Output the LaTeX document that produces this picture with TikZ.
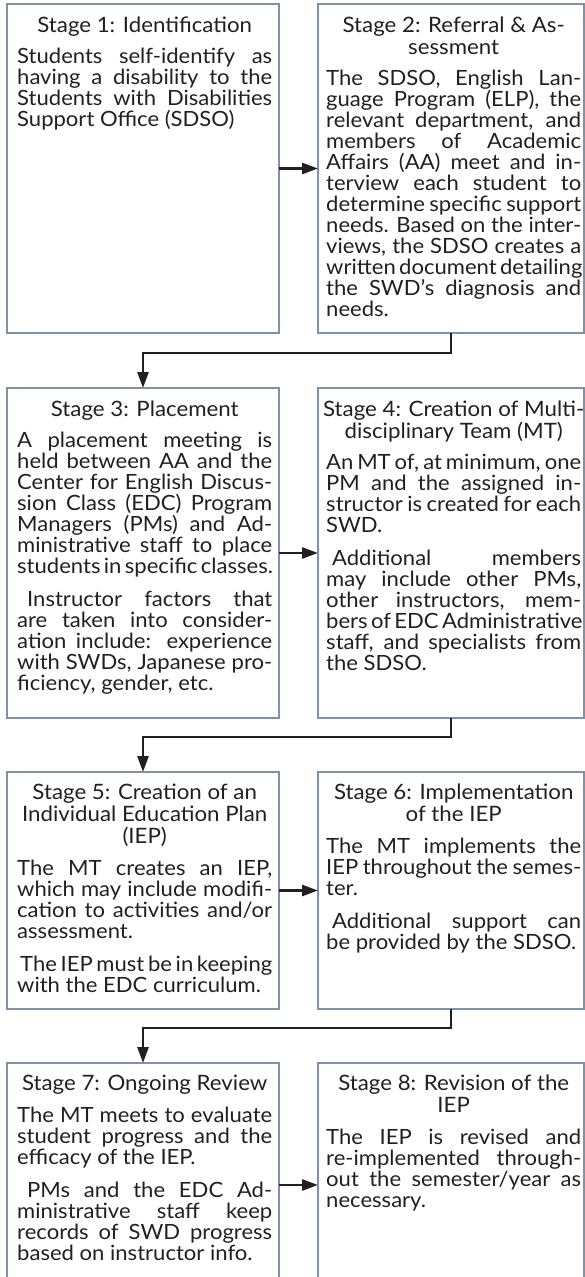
\documentclass[tikz,border=0pt]{standalone}
\usepackage{fontspec}
\setmainfont{Lato}[FakeStretch=1.05]
\usetikzlibrary{arrows.meta}
\definecolor{txt}{HTML}{231F20}
\definecolor{brd}{HTML}{7F93A8}
\newdimen\bodyw \bodyw=255pt
\newcommand\titlefont{\fontsize{21.2pt}{22pt}\selectfont\spaceskip=0pt\relax}
\newcommand\Jline[1]{\hbox to \bodyw{#1}}
\newcommand\Nline[1]{\hbox{#1}}
\newcommand\Iline[2]{\hbox to \bodyw{\hskip#1\relax #2}}
\newcommand\Tline[1]{\hbox to \bodyw{\titlefont\hss#1\hss}}
\newcommand\stagetext[1]{\vtop{\hsize=\bodyw\baselineskip=21pt\lineskiplimit=-100pt\lineskip=0pt
  \spaceskip=\fontdimen2\font plus \fontdimen3\font minus 0.4\fontdimen2\font #1}}
\tikzset{
  stagebox/.style={draw=brd, line width=1.2pt, inner sep=0pt, outer sep=0pt},
  stagetxt/.style={anchor=base west, inner sep=0pt, text=txt},
  conn/.style={draw=txt, line width=2.6pt, -{Triangle[length=16pt,width=11pt]}}
}
\begin{document}
\begin{tikzpicture}[x=1pt,y=-1pt,font=\fontsize{21pt}{21pt}\selectfont]
\useasboundingbox (0,0) rectangle (585,1277);
% boxes
\node[stagebox, minimum width=272pt, minimum height=329pt] (b1) at (143,168.5) {};
\node[stagebox, minimum width=266pt, minimum height=329pt] (b2) at (451,168.5) {};
\node[stagebox, minimum width=272pt, minimum height=330pt] (b3) at (143,553) {};
\node[stagebox, minimum width=266pt, minimum height=330pt] (b4) at (451,553) {};
\node[stagebox, minimum width=272pt, minimum height=237pt] (b5) at (143,890.5) {};
\node[stagebox, minimum width=266pt, minimum height=237pt] (b6) at (451,890.5) {};
\node[stagebox, minimum width=272pt, minimum height=244pt] (b7) at (143,1185) {};
\node[stagebox, minimum width=266pt, minimum height=244pt] (b8) at (451,1185) {};
% texts
\node[stagetxt] (t1) at (17,32) {\stagetext{%
\Tline{Stage 1: Identification}\kern10pt
\Jline{Students self-identify as}
\Jline{having a disability to the}
\Jline{Students with Disabilities}
\Nline{Support Office (SDSO)}}};
\node[stagetxt] (t2) at (326,32) {\stagetext{%
\Tline{Stage 2: Referral \& As-}\kern1pt
\Tline{sessment}\kern10pt
\Jline{The SDSO, English Lan-}
\Jline{guage Program (ELP), the}
\Jline{relevant department, and}
\Jline{members of Academic}
\Jline{Affairs (AA) meet and in-}
\Jline{terview each student to}
\Jline{determine specific support}
\Jline{needs. Based on the inter-}
\Jline{views, the SDSO creates a}
\Jline{written document detailing}
\Jline{the SWD's diagnosis and}
\Nline{needs.}}};
\node[stagetxt] (t3) at (17,416) {\stagetext{%
\Tline{Stage 3: Placement}\kern10pt
\Jline{A placement meeting is}
\Jline{held between AA and the}
\Jline{Center for English Discus-}
\Jline{sion Class (EDC) Program}
\Jline{Managers (PMs) and Ad-}
\Jline{ministrative staff to place}
\Jline{students in specific classes.}\kern12pt
\Iline{10pt}{Instructor factors that}
\Jline{are taken into consider-}
\Jline{ation include: experience}
\Jline{with SWDs, Japanese pro-}
\Nline{ficiency, gender, etc.}}};
\node[stagetxt] (t4) at (326,416) {\stagetext{%
\Tline{Stage 4: Creation of Multi-}\kern1pt
\Tline{disciplinary Team (MT)}\kern10pt
\Jline{An MT of, at minimum, one}
\Jline{PM and the assigned in-}
\Jline{structor is created for each}
\Nline{SWD.}\kern12pt
\Iline{6pt}{Additional members}
\Jline{may include other PMs,}
\Jline{other instructors, mem-}
\Jline{bers of EDC Administrative}
\Jline{staff, and specialists from}
\Nline{the SDSO.}}};
\node[stagetxt] (t5) at (17,799) {\stagetext{%
\Tline{Stage 5: Creation of an}\kern1pt
\Tline{Individual Education Plan}\kern1pt
\Tline{(IEP)}\kern11pt
\Jline{The MT creates an IEP,}
\Jline{which may include modifi-}
\Jline{cation to activities and/or}
\Nline{assessment.}\kern12pt
\Iline{3pt}{The IEP must be in keeping}
\Nline{with the EDC curriculum.}}};
\node[stagetxt] (t6) at (326,799) {\stagetext{%
\Tline{Stage 6: Implementation}\kern1pt
\Tline{of the IEP}\kern11pt
\Jline{The MT implements the}
\Jline{IEP throughout the semes-}
\Nline{ter.}\kern12pt
\Iline{6pt}{Additional support can}
\Nline{be provided by the SDSO.}}};
\node[stagetxt] (t7) at (17,1090) {\stagetext{%
\Tline{Stage 7: Ongoing Review}\kern11pt
\Jline{The MT meets to evaluate}
\Jline{student progress and the}
\Nline{efficacy of the IEP.}\kern12pt
\Iline{10pt}{PMs and the EDC Ad-}
\Jline{ministrative staff keep}
\Jline{records of SWD progress}
\Nline{based on instructor info.}}};
\node[stagetxt] (t8) at (326,1090) {\stagetext{%
\Tline{Stage 8: Revision of the}\kern1pt
\Tline{IEP}\kern11pt
\Jline{The IEP is revised and}
\Jline{re-implemented through-}
\Jline{out the semester/year as}
\Nline{necessary.}}};
% connectors
\draw[conn] (b1.east) -- (b2.west);
\draw[conn] (b2.south) -- ++(0,20) -| (b3.north);
\draw[conn] (b3.east) -- (b4.west);
\draw[conn] (b4.south) -- ++(0,19) -| (b5.north);
\draw[conn] (b5.east) -- (b6.west);
\draw[conn] (b6.south) -- ++(0,19) -| (b7.north);
\draw[conn] (b7.east) -- (b8.west);
\end{tikzpicture}
\end{document}
